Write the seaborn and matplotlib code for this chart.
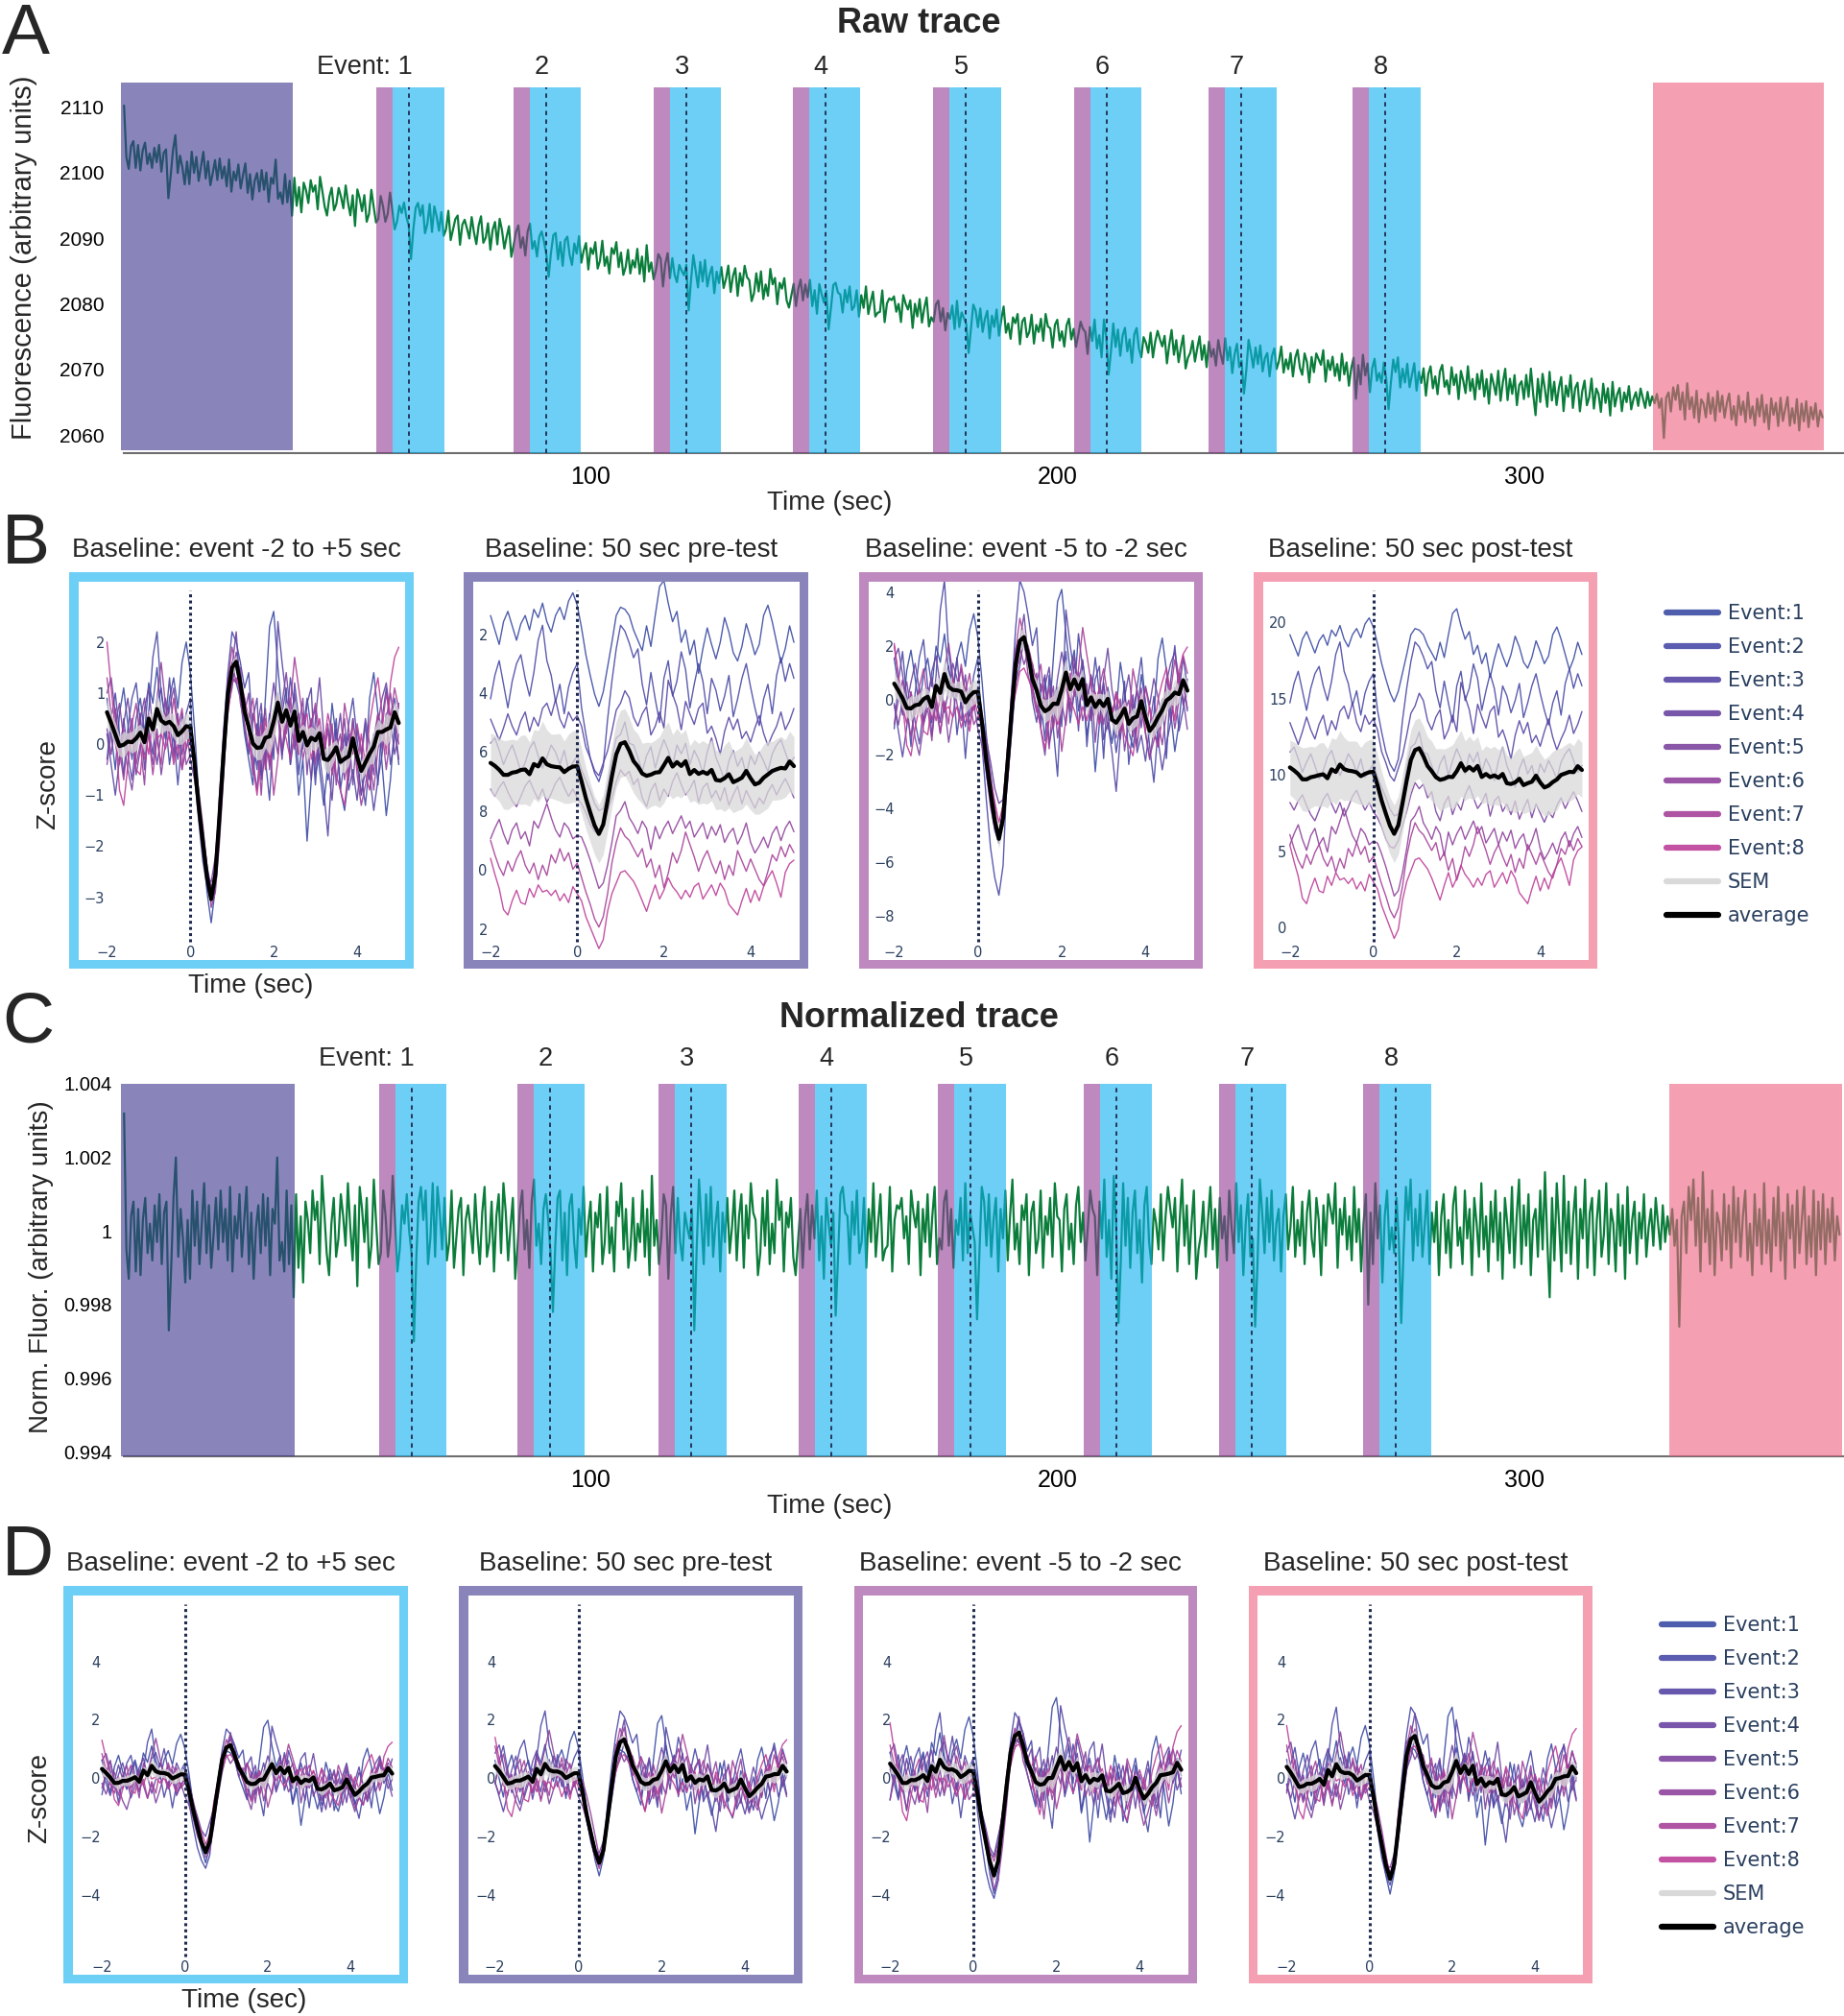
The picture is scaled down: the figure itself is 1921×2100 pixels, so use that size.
import numpy as np
import pandas as pd
import seaborn as sns
import matplotlib.pyplot as plt
from matplotlib.patches import Rectangle
from matplotlib.lines import Line2D
from matplotlib.ticker import FuncFormatter

#%% data ------------------------------------------------------------------

# normalized trace (panel C): deviation from 1 in units of 1e-4, one sample every 0.5 s
norm_dev = [
    32, -5, -13, 4, 8, -11, 6, -12, 3, 9, -6, 2, -8, 7, -3, 10, -9, 5, 8, -27,
    -10, 9, 20, -7, 6, -2, -14, 3, -13, 11, -4, 8, -9, 2, 13, -6, 7, -10, -1, 9,
    -5, 11, -3, 6, -8, 12, -11, 4, -2, 10, -7, 3, 12, -9, 5, -13, 1, 7, -6, 10,
    -4, 9, -12, 6, 2, 20, -8, -3, -11, 11, -9, 7, -18, 10, -10, 4, -14, 8, 3, -6,
    11, 3, 8, -9, 15, 5, -6, -12, 2, 9, -7, -2, 10, 4, -4, 13, 1, -8, 7, -15,
    12, 6, -3, 9, -10, -4, 14, 2, -9, -6, 11, 4, -7, -1, 15, 3, -11, -5, 7, 2,
    10, 0, -6, -30, -8, 8, 12, 3, 11, -9, -2, 13, -7, 12, 5, -5, 9, -8, -3, 11,
    -10, -2, 6, 9, -12, 3, 7, 1, -6, 10, -1, -9, 5, 12, -7, -3, 8, -11, 4, 10,
    -6, 13, 5, -8, 1, 9, -13, -4, 6, 11, -5, 3, -10, 8, 14, -4, 2, -9, 6, 10,
    3, -6, -22, -4, 9, 11, -8, 5, -12, 7, 10, -3, -10, 6, -1, 12, -7, 2, 8, -11,
    5, 1, 10, -9, -3, 12, -6, 1, -11, 8, 4, 13, -5, 6, -10, -4, 9, -8, 2, -3,
    11, -7, 6, -12, 15, -4, 3, -9, -2, 10, 7, -13, 4, 12, -6, 9, -3, -8, 5, 1,
    -2, 6, -27, -5, 14, 3, -9, 10, -4, 12, -7, 2, 8, -11, 5, -3, 9, -6, 1, 11,
    -8, 4, 10, -10, 7, -2, 13, 5, 3, -12, -6, 9, -4, 11, -9, 2, -6, 14, 3, 8,
    -11, 5, 1, 9, -7, -12, -3, 6, -10, 3, 10, -5, 7, -2, 11, -8, 4, -13, 9, 2,
    -4, 5, -23, -7, 10, 12, 5, 4, -9, 8, -1, 11, -6, -3, 9, -10, 6, -3, 13, -7,
    2, 10, -8, -5, -4, 12, -11, 3, 7, 6, 9, -2, 4, -9, 11, 5, 1, 8, -12, 6,
    -3, 10, -7, 4, 12, -9, -2, -5, 8, 11, -4, 6, -10, 3, -1, 9, -8, 13, -6, 5,
    1, -3, -24, -6, 12, 8, -4, 10, -7, 3, 9, -11, 6, -2, 11, -8, 4, 14, -5, 2,
    -9, 7, 3, 10, -12, 5, 8, -6, -2, 11, -10, 4, -1, 9, -7, 13, 4, 3, -11, 6,
    10, -5, 2, -9, 7, 12, -3, 5, -8, 1, 11, 6, 4, -12, 8, -2, 14, -7, 3, -13,
    15, 2, -25, -8, 13, -4, 9, -10, 5, 11, -6, 3, -14, 7, 12, -3, -9, 6, 2, -5,
    10, -8, 4, 12, 6, 1, 9, -11, 3, 14, -4, 7, -9, 2, 11, -13, -5, -1, 8, -7,
    3, 12, -5, 6, -10, 9, -2, 4, -8, 11, 1, -6, 13, -3, 7, -12, 2, 10, -7, -2,
    -26, -9, 14, 5, -6, 9, -3, 11, -8, 2, 6, -11, 4, 10, -5, 1, 12, -7, 3, -4,
    8, -9, 5, 11, -2, -7, 9, 3, -12, 7, -4, 10, 6, 2, 13, -10, 6, -1, 9, -5,
    4, -8, 12, -3, 6, -11, 2, 10, -20, 5, -9, 13, -2, 7, -14, 4, 11, -5, 1, -6,
    9, -3, -25, -5, 12, 3, 14, -8, 6, -4, 10, -7, 2, 11, -9, 5, -3, 8, -12, 4,
    10, -6, 3, -10, 7, 12, -4, 1, -9, 11, -2, 6, -12, 9, 2, -7, 13, -5, 4, -11,
    8, -3, 11, -8, 5, -13, 9, 2, -6, 12, -10, 4, 14, -9, 7, -4, 10, -12, 3, 6,
    -7, 11, -5, 16, -3, -18, 9, -8, 13, 2, -11, 15, -6, 8, -9, 4, 12, -13, 6, -2,
    14, -10, 5, 9, -12, 3, 11, -7, -1, 13, -9, 6, 2, -11, 10, -4, 7, -13, 12, -6,
    3, 8, -9, 5, -2, 10, -7, 1, 6, -4, 9, 2, -5, 7, -3, 4, -1, 6, -4, 3,
    -26, 4, 8, -6, 12, 3, 14, -4, 9, -11, 16, -3, 6, -9, 11, -12, 5, 2, -8, 10,
    -5, 7, -10, 12, -3, 9, -7, 4, 11, -8, 2, -12, 10, -4, 6, -9, 13, -6, 3, -11,
    9, -4, 12, -8, 5, -13, 10, -2, 7, -10, 11, -6, 3, 12, -9, 4, -7, 11, -12, 8,
    -5, 10, -9, 6, -3, 9, -8, 4, -1,
]
dt_raw = 0.5      # s per sample, panel A
dt_norm = 0.505   # s per sample as drawn in panel C

# bleaching baseline (time in s -> fluorescence)
base_time = [0, 20, 50, 100, 150, 200, 250, 300, 364]
base_fluor = [2103, 2100.5, 2095.5, 2086.5, 2081, 2076, 2071, 2066.5, 2063]

events_raw = [61.1, 90.4, 120.5, 150.3, 180.4, 210.6, 239.5, 270.3]
events_norm = [61.6, 91.3, 121.6, 151.6, 181.5, 212.7, 241.6, 272.6]
pre_raw, post_raw = (-0.6, 36.1), (327.6, 364.3)
pre_norm, post_norm = (-0.6, 36.6), (331.2, 368.1)
strip_win = (-7.0, -3.5)   # purple strip around each event
cyan_win = (-3.5, 7.5)     # cyan window around each event

# event snippets: z-score, baseline event -2 to +5 s, 0.1 s steps starting at -2 s
ev1 = [0.9, 0.2, -0.5, 0.6, 1.1, 0.4, -0.3, 0.5, 0.9, 0.2, 1.2, 0.8, 1.5, 0.6, 0.1, 0.9, 1.3, 0.7, 1.6, 2.0, 1.4,
       0.3, -1.0, -2.0, -2.9, -3.5, -2.8, -1.6, -0.4, 0.9, 1.3, 1.2,
       0.9, 0.2, -0.3, -0.8, 0.4, -0.6, 0.9, 2.3, 2.6, 1.5, 0.6, 1.1, -0.4, 0.2, -1.0, -0.3, -1.9, -0.7, 0.3, -0.5,
       -1.2, -0.4, 0.8, 0.1, -0.9, -1.3, -0.6, 0.5, -0.2, -1.0, -0.5, 0.9, 1.4, 0.6, -0.4, -1.4, -0.7, 0.4, -0.4]
ev2 = [-0.3, 0.5, 1.0, 0.2, -0.6, 0.3, 0.9, 1.2, 0.4, -0.2, 0.6, 1.7, 2.2, 1.0, 0.5, -0.4, 0.2, -0.8, 0.1, 0.6, 0.9,
       -0.6, -1.5, -2.3, -2.8, -3.1, -2.6, -1.0, 0.3, 1.4, 2.2, 2.0,
       1.6, 1.1, 1.4, 0.2, -0.5, 0.6, -0.3, -1.1, 0.4, 1.0, -0.2, 0.3, 1.3, 0.7, -0.6, 0.2, 0.9, 0.3, -0.8, 0.4,
       0.0, -0.7, -0.2, 0.5, -0.9, -0.3, 0.4, 0.9, 0.1, -0.6, -1.2, -0.3, 0.2, -0.8, 0.5, 1.1, 0.3, 0.9, 0.4]
ev3 = [0.2, -0.4, -1.0, -0.3, 0.5, -0.2, -0.7, 0.1, 0.6, -0.5, 0.3, -0.2, 0.8, 1.1, 0.4, 1.3, 0.2, -0.3, 0.6, 0.1, 0.4,
       -0.2, -1.4, -2.0, -2.7, -3.0, -2.3, -1.6, -0.5, 0.7, 1.1, 1.8,
       1.4, 0.3, -0.2, 0.5, 0.9, -0.7, -0.2, 0.6, -0.3, 2.4, 1.6, 0.9, -0.4, 1.2, 0.5, -0.1, 0.8, 1.1, -0.6, -0.2,
       -0.9, -1.8, -0.5, 0.3, -0.4, 0.2, -0.9, -0.5, -1.1, -0.3, 0.4, -0.6, -1.3, -0.7, -0.2, 0.6, -0.4, 0.1, 0.8]
ev4 = [1.0, 1.3, 0.6, -0.2, 0.4, 0.9, 0.2, -0.6, -0.1, 0.7, 1.1, 0.3, -0.4, 0.2, 0.9, 0.5, -0.2, 0.6, -0.5, -0.1, 0.3,
       -0.5, -1.1, -1.7, -2.4, -2.8, -2.7, -1.5, 0.1, 1.3, 1.5, 2.2,
       1.0, 0.9, 0.2, -0.6, 0.3, 0.8, -0.4, 0.5, 1.2, 0.6, -0.3, 0.9, 0.4, 1.0, -0.2, 0.6, 0.1, -0.7, 0.5, 1.3,
       0.2, -0.4, -1.1, 0.0, 0.6, -0.3, 0.2, -0.8, 0.3, -0.2, 0.5, 0.0, -0.6, 0.4, 0.9, 1.2, 0.5, -0.2, 0.2]
ev5 = [0.3, -0.2, 0.4, 0.8, 0.1, -0.5, -0.9, -0.2, 0.5, 0.9, 0.2, -0.4, 0.3, -0.6, 0.0, 0.7, 1.1, 0.4, -0.2, 0.3, -0.3,
       -0.7, -1.3, -2.1, -2.6, -2.7, -2.2, -1.2, -0.3, 0.8, 1.6, 1.2,
       1.5, 0.6, 1.0, -0.3, -0.9, 0.2, 0.7, -0.5, 0.3, -0.2, 0.8, 1.4, 0.6, -0.1, 0.3, 0.9, -0.6, 0.4, 0.7, -0.3,
       0.2, -0.5, 0.4, -0.8, -0.1, 0.5, -0.7, 0.2, -0.4, -1.0, -0.3, -0.7, 0.1, 0.6, -0.1, 0.5, 1.0, 0.4, -0.3]
ev6 = [-0.4, 0.2, 0.7, -0.1, -0.7, 0.1, 0.5, -0.4, 0.0, -0.8, 0.6, 0.2, 0.9, 1.6, 0.8, 0.1, -0.3, 0.5, 0.2, -0.4, -0.2,
       -0.3, -0.9, -1.6, -2.4, -3.2, -2.9, -1.9, -0.6, 0.9, 1.2, 1.7,
       0.8, 0.4, -0.1, 0.6, 0.2, -1.0, 0.3, -0.4, 0.2, 0.6, -0.1, 0.4, 0.9, 0.2, 0.6, -0.3, 0.1, 0.5, -0.4, 0.3,
       -0.2, 0.4, -0.6, -0.1, 0.2, -0.7, -0.2, 0.5, -0.6, -1.2, -0.8, -0.3, -0.9, -0.1, 0.3, -0.5, 0.2, 0.6, 0.0]
ev7 = [1.3, 0.6, 0.0, -0.4, 0.3, -0.2, 0.4, 0.8, 0.1, -0.3, 0.2, -0.6, 0.1, -0.4, 0.6, 0.2, 0.9, 0.3, 0.7, -0.1, 0.2,
       -0.5, -1.2, -1.8, -2.5, -2.9, -2.4, -1.3, 0.2, 1.2, 1.9, 1.5,
       1.3, 0.9, 0.5, 0.9, 0.0, 0.4, -0.5, 0.1, -1.0, -0.3, 0.7, 0.2, 0.8, 1.7, 1.1, 0.5, -0.2, 0.4, 0.8, 0.2,
       -0.3, 0.3, -0.6, 0.1, -0.4, 0.8, 0.3, -0.2, 0.4, -0.1, -0.6, -0.9, -0.2, 0.6, 0.3, 1.0, 0.5, 1.1, 0.7]
ev8 = [2.0, 1.1, 0.3, -0.9, -1.2, -0.4, 0.2, -0.5, -0.6, 0.3, -0.2, 0.5, 0.1, 0.2, -0.1, 0.2, -0.4, 0.0, -0.5, 0.4, 0.0,
       -0.4, -1.3, -1.9, -2.5, -3.1, -2.6, -1.0, 0.0, 0.6, 1.2, 1.3,
       1.0, 0.7, 0.2, -0.4, -1.0, -0.2, 0.5, -0.3, 0.2, 0.9, 0.4, 0.1, -0.3, 0.2, -0.2, 0.4, 0.6, -0.3, 0.1, 0.5,
       -0.1, 0.6, 0.2, -0.6, -0.9, -1.2, -0.4, 0.3, -0.5, 0.2, -0.4, 0.4, 0.9, 1.3, 0.6, -0.2, 1.2, 1.7, 1.9]
snippets = [ev1, ev2, ev3, ev4, ev5, ev6, ev7, ev8]
snip_dt = 0.1

# per-event scale and shift that take the -2..+5 s z-score to the other baselines
b1_scale, b1_shift = [1.0] * 8, [0.0] * 8
b2_scale = [0.7, 1.0, 0.6, 0.6, 0.5, 0.6, 0.7, 0.6]
b2_shift = [-2.0, -3.9, -5.0, -6.3, -7.4, -8.7, -9.9, -10.8]
b3_scale = [1.5, 2.2, 1.6, 1.4, 1.6, 1.5, 1.7, 1.3]
b3_shift = [0.2, -0.4, -0.5, 0.1, -0.6, -0.3, -0.2, -0.5]
b4_scale = [1.0, 1.6, 1.2, 1.1, 1.0, 1.2, 1.3, 1.2]
b4_shift = [18.3, 15.2, 13.2, 10.4, 7.9, 5.9, 4.4, 3.0]
d1_scale = [0.8, 0.9, 0.7, 0.8, 0.75, 0.85, 0.8, 0.7]
d1_shift = [-0.1, -0.3, 0.1, -0.2, -0.4, 0.0, -0.2, -0.1]
d2_scale = [0.9, 1.0, 0.85, 0.95, 0.8, 0.9, 1.0, 0.85]
d2_shift = [-0.2, 0.1, -0.3, -0.1, -0.4, 0.2, -0.2, -0.3]
d3_scale = [1.1, 1.2, 0.95, 1.05, 1.0, 1.1, 0.95, 1.05]
d3_shift = [-0.1, -0.4, 0.2, -0.2, 0.0, -0.3, -0.1, -0.2]
d4_scale = [1.05, 1.15, 1.0, 1.1, 0.95, 1.05, 1.1, 1.0]
d4_shift = [-0.3, -0.1, -0.4, -0.2, -0.5, -0.1, -0.3, -0.2]

event_labels = [f'Event:{i + 1}' for i in range(8)]
event_colors = ['#3b4ba3', '#4949a6', '#5746a4', '#6945a2', '#7c449f', '#90429c', '#a64199', '#bd3f98']

#%% style -----------------------------------------------------------------

sns.set_theme(style='white')
plt.rcParams['font.family'] = ['Liberation Sans', 'DejaVu Sans']

GREEN = '#0b7d3b'
C_PRE, C_STRIP, C_CYAN, C_POST = '#3a348e', '#913a94', '#0cafef', '#ed5f7f'
B_CYAN, B_PRE, B_STRIP, B_POST = '#6dcff6', '#8985bb', '#bd89bf', '#f49fb2'
NAVY = '#1f2a4f'
TICK = '#2a3f5f'

W, H = 1921, 2100
fig = plt.figure(figsize=(W / 100, H / 100), dpi=100)


def add_ax(l, t, r, b):
    return fig.add_axes([l / W, 1 - b / H, (r - l) / W, (b - t) / H])


def ftext(x, y, s, **kw):
    kw.setdefault('ha', 'center')
    kw.setdefault('va', 'center')
    fig.text(x / W, 1 - y / H, s, **kw)


#%% long traces -----------------------------------------------------------

def draw_trace(box, t, y, events, pre, post, xmax, ylim, yticks, ypad, ysize,
               ev_top, win_bottom, label_y, fmt=None):
    l, top, r, b = box
    ax = add_ax(l, top, r, b)
    sns.lineplot(x=t, y=y, color=GREEN, lw=1.6, ax=ax)
    ax.axvspan(*pre, ymin=win_bottom, ymax=1, color=C_PRE, alpha=0.6, lw=0, zorder=3)
    ax.axvspan(*post, ymin=win_bottom, ymax=1, color=C_POST, alpha=0.6, lw=0, zorder=3)
    for e in events:
        ax.axvspan(e + strip_win[0], e + strip_win[1], ymax=ev_top, color=C_STRIP,
                   alpha=0.6, lw=0, zorder=3)
        ax.axvspan(e + cyan_win[0], e + cyan_win[1], ymax=ev_top, color=C_CYAN,
                   alpha=0.6, lw=0, zorder=3)
        ax.axvline(e, ymax=ev_top, color=NAVY, lw=1.3, ls=(0, (2.5, 2.5)), zorder=4)
    ax.set_xlim(pre[0], xmax)
    ax.set_ylim(*ylim)
    ax.set(xlabel='', ylabel='')
    for s in ['left', 'top', 'right']:
        ax.spines[s].set_visible(False)
    ax.spines['bottom'].set_color('#6e6e6e')
    ax.spines['bottom'].set_linewidth(1.5)
    ax.spines['bottom'].set_bounds(0, xmax)
    ax.set_xticks([100, 200, 300])
    ax.set_yticks(yticks)
    if fmt is not None:
        ax.yaxis.set_major_formatter(FuncFormatter(fmt))
    ax.tick_params(axis='both', length=0, labelcolor='black')
    ax.tick_params(axis='x', pad=9.5, labelsize=18)
    ax.tick_params(axis='y', pad=ypad, labelsize=ysize)

    # event numbers above the windows
    yf = (b - label_y) / (b - top)
    for i, e in enumerate(events):
        if i == 0:
            ax.text(e + 0.7, yf, 'Event: 1', ha='right', va='center', size=19.5,
                    transform=ax.get_xaxis_transform())
        else:
            ax.text(e - 1.0, yf, str(i + 1), ha='center', va='center', size=19.5,
                    transform=ax.get_xaxis_transform())
    return ax


t_raw = np.arange(len(norm_dev)) * dt_raw
baseline = np.polyval(np.polyfit(base_time, base_fluor, 3), t_raw)
norm = 1 + np.asarray(norm_dev) * 1e-4
raw = baseline * norm
t_norm = np.arange(len(norm_dev)) * dt_norm

# panel A
draw_trace((126.3, 85.7, 1921, 471.5), t_raw, raw, events_raw, pre_raw, post_raw,
           368.6, (2057.3, 2113.8), [2060, 2070, 2080, 2090, 2100, 2110], 13, 15,
           0.986, 0.007, 69.7)
ftext(2, 2, 'A', ha='left', va='top', size=54)
ftext(957, 25, 'Raw trace', weight='bold', size=26)
ftext(25, 268, 'Fluorescence (arbitrary units)', rotation=90, size=21)
ftext(864, 524, 'Time (sec)', size=20)

# panel C
draw_trace((126.3, 1129, 1921, 1516.5), t_norm, norm, events_norm, pre_norm, post_norm,
           368.6, (0.99389, 1.004), [0.994, 0.996, 0.998, 1.0, 1.002, 1.004], 7, 14.5,
           1.0, 0.0, 1102.5, fmt=lambda v, p: f'{v:g}')
ftext(2, 1031, 'C', ha='left', va='top', size=54)
ftext(957, 1060, 'Normalized trace', weight='bold', size=26)
ftext(43, 1319.5, 'Norm. Fluor. (arbitrary units)', rotation=90, size=20)
ftext(864, 1568.6, 'Time (sec)', size=20)

#%% event panels ----------------------------------------------------------

t_snip = np.round(np.arange(min(len(e) for e in snippets)) * snip_dt - 2, 2)


def panel_frame(scale, shift):
    parts = []
    for i, ev in enumerate(snippets):
        z = scale[i] * np.asarray(ev[:len(t_snip)]) + shift[i]
        parts.append(pd.DataFrame({'t': t_snip, 'z': z, 'event': event_labels[i]}))
    return pd.concat(parts, ignore_index=True)


def draw_event_panel(box, border, scale, shift, xlim, ylim, yticks, ylabels, ypad, title):
    l, t, r, b = box
    fig.add_artist(Rectangle((l / W, 1 - b / H), (r - l) / W, (b - t) / H,
                             transform=fig.transFigure, facecolor=border,
                             edgecolor='none', zorder=-1))
    bw = 9.5
    ax = add_ax(l + bw, t + bw, r - bw, b - bw)
    ax.set_facecolor('white')

    df = panel_frame(scale, shift)
    sns.lineplot(data=df, x='t', y='z', hue='event', palette=event_colors, lw=1.0,
                 alpha=0.9, legend=False, ax=ax)
    stats = df.groupby('t')['z'].agg(['mean', 'sem'])
    ax.fill_between(stats.index, stats['mean'] - stats['sem'], stats['mean'] + stats['sem'],
                    color='#d9d9d9', alpha=0.75, lw=0, zorder=3)
    sns.lineplot(x=stats.index, y=stats['mean'].values, color='black', lw=3, ax=ax, zorder=4)
    ax.axvline(0, ymin=0.047, ymax=0.976, color=NAVY, lw=2.2, ls=(0, (1, 1.1)), zorder=5)

    ax.set_xlim(*xlim)
    ax.set_ylim(*ylim)
    ax.set(xlabel='', ylabel='')
    for s in ax.spines.values():
        s.set_visible(False)
    ax.set_xticks([-2, 0, 2, 4])
    ax.set_xticklabels(['\u22122', '0', '2', '4'])
    ax.set_yticks(yticks)
    ax.set_yticklabels(ylabels)
    ax.tick_params(axis='both', length=0, labelsize=10.5, labelcolor=TICK,
                   labelfontfamily='DejaVu Sans')
    ax.tick_params(axis='x', pad=-10.5)
    ax.tick_params(axis='y', pad=-ypad)
    ftext((l + r) / 2 - 5, t - 22.5, title, size=20)
    return ax


def mlab(vals):
    return [f'{v}'.replace('-', '\u2212') for v in vals]


B_TOP, B_BOT = 596, 1009
D_TOP, D_BOT = 1652, 2066

# panel B
ftext(2, 533, 'B', ha='left', va='top', size=54)
draw_event_panel((72, B_TOP, 431, B_BOT), B_CYAN, b1_scale, b1_shift, (-2.69, 5.14),
                 (-4.22, 3.19), [-3, -2, -1, 0, 1, 2], mlab([-3, -2, -1, 0, 1, 2]), 20,
                 'Baseline: event -2 to +5 sec')
draw_event_panel((483, B_TOP, 842, B_BOT), B_PRE, b2_scale, b2_shift, (-2.41, 5.12),
                 (-13.03, -0.21), [-12, -10, -8, -6, -4, -2], ['2', '0', '8', '6', '4', '2'], 11,
                 'Baseline: 50 sec pre-test')
draw_event_panel((895, B_TOP, 1253, B_BOT), B_STRIP, b3_scale, b3_shift, (-2.62, 5.15),
                 (-9.6, 4.4), [-8, -6, -4, -2, 0, 2, 4], mlab([-8, -6, -4, -2, 0, 2, 4]), 19.5,
                 'Baseline: event -5 to -2 sec')
draw_event_panel((1306, B_TOP, 1664, B_BOT), B_POST, b4_scale, b4_shift, (-2.65, 5.15),
                 (-2.1, 22.7), [0, 5, 10, 15, 20], mlab([0, 5, 10, 15, 20]), 18,
                 'Baseline: 50 sec post-test')
ftext(261, 1027, 'Time (sec)', size=20)
ftext(50, 817, 'Z-score', rotation=90, size=20)

# panel D
d_ticks = [-4, -2, 0, 2, 4]
ftext(2, 1587, 'D', ha='left', va='top', size=54)
draw_event_panel((66, D_TOP, 425, D_BOT), B_CYAN, d1_scale, d1_shift, (-2.71, 5.16),
                 (-6.72, 6.27), d_ticks, mlab(d_ticks), 21, 'Baseline: event -2 to +5 sec')
draw_event_panel((478, D_TOP, 836, D_BOT), B_PRE, d2_scale, d2_shift, (-2.65, 5.16),
                 (-6.72, 6.27), d_ticks, mlab(d_ticks), 21, 'Baseline: 50 sec pre-test')
draw_event_panel((889.5, D_TOP, 1247, D_BOT), B_STRIP, d3_scale, d3_shift, (-2.65, 5.16),
                 (-6.72, 6.27), d_ticks, mlab(d_ticks), 21, 'Baseline: event -5 to -2 sec')
draw_event_panel((1300.7, D_TOP, 1658.5, D_BOT), B_POST, d4_scale, d4_shift, (-2.7, 5.16),
                 (-6.72, 6.27), d_ticks, mlab(d_ticks), 21, 'Baseline: 50 sec post-test')
ftext(254.5, 2084, 'Time (sec)', size=20)
ftext(41.5, 1873, 'Z-score', rotation=90, size=20)

#%% legends ---------------------------------------------------------------


def draw_legend(x, y):
    handles = [Line2D([], [], color=c, lw=4.5, alpha=0.9) for c in event_colors]
    handles += [Line2D([], [], color='#d9d9d9', lw=4.5), Line2D([], [], color='black', lw=4.5)]
    labels = event_labels + ['SEM', 'average']
    fig.legend(handles, labels, loc='upper left', bbox_to_anchor=(x / W, 1 - y / H),
               frameon=False, prop={'family': 'DejaVu Sans', 'size': 15}, labelcolor=TICK,
               handlelength=2.6, handletextpad=0.45, labelspacing=0.72,
               borderpad=0, borderaxespad=0)


draw_legend(1736, 629)
draw_legend(1731, 1683)

plt.savefig('out.png', dpi=100)
plt.close()
